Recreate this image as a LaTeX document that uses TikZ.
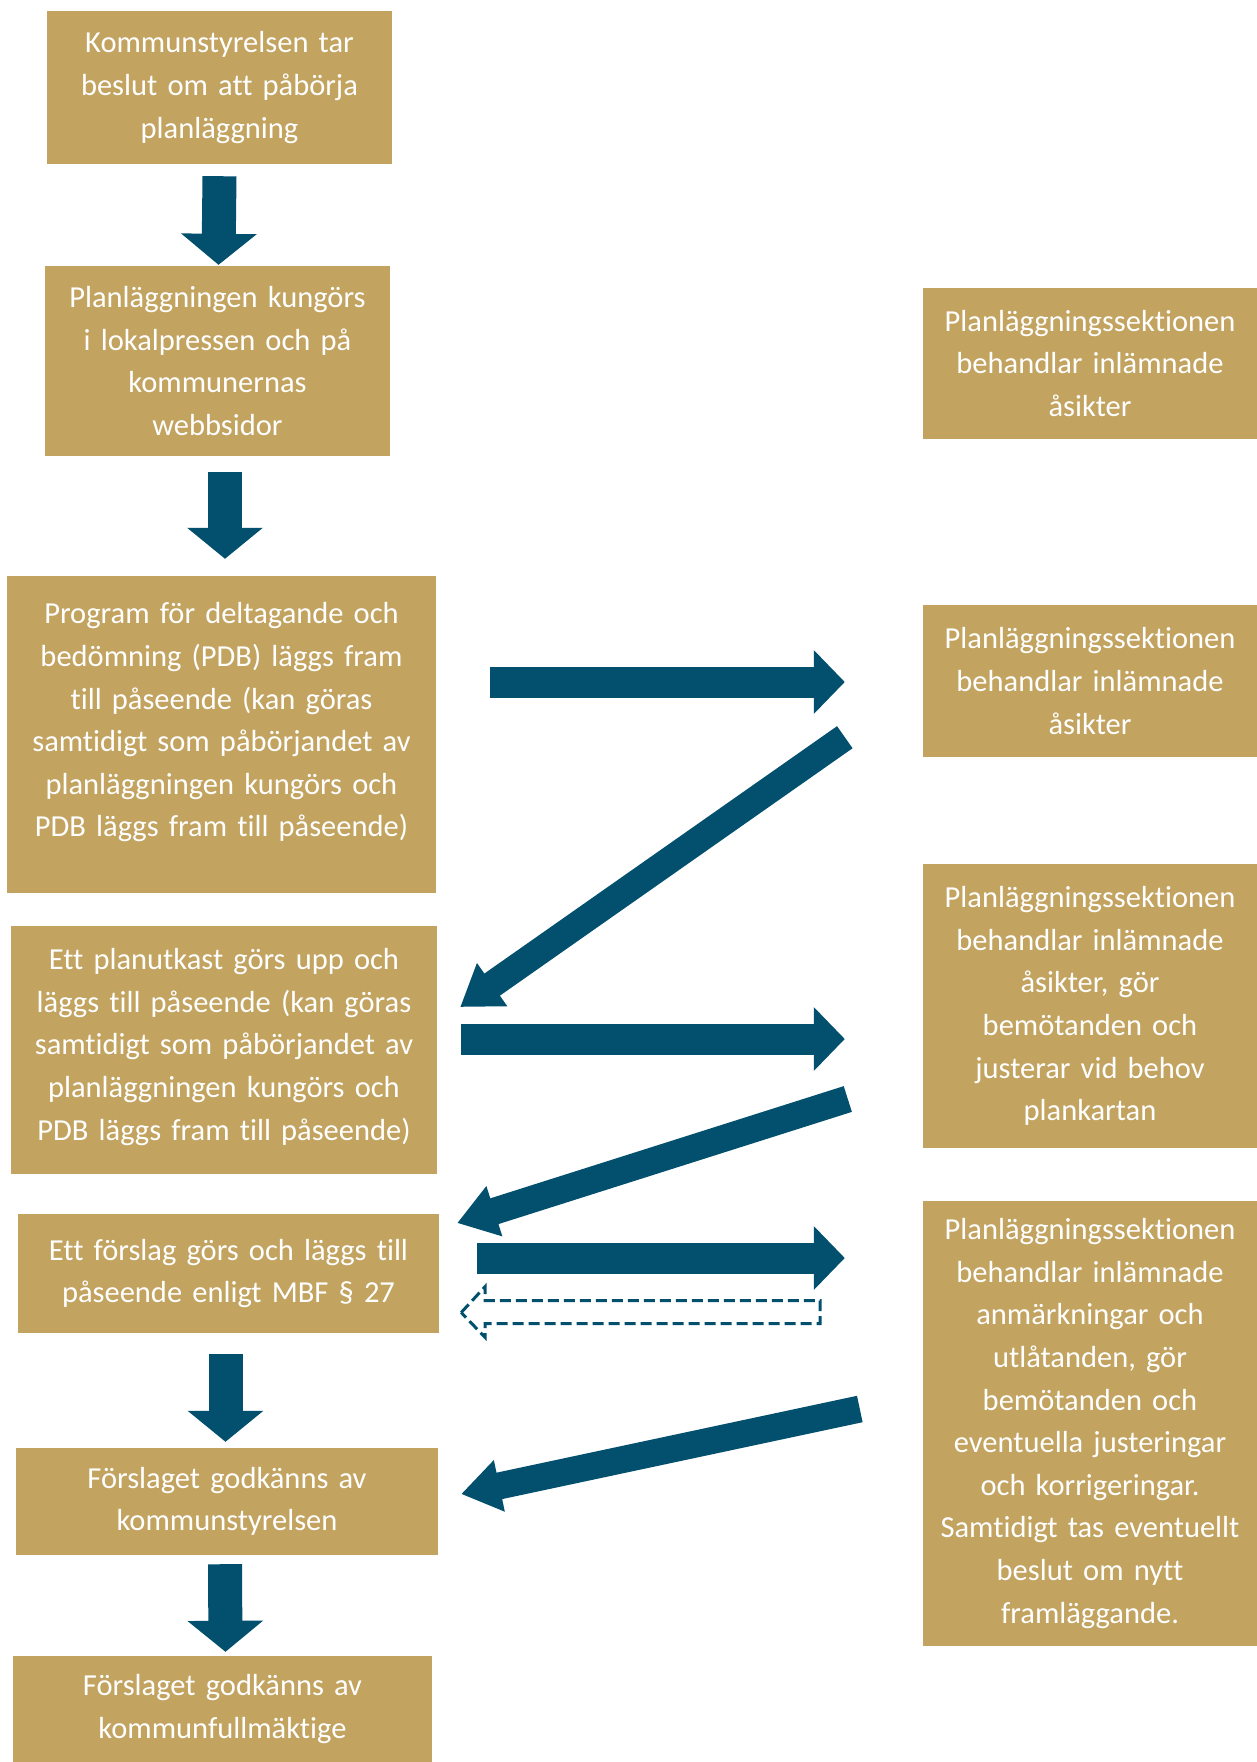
\documentclass[tikz,border=0pt]{standalone}
\usepackage{fontspec}
\setmainfont{Carlito}[Ligatures=NoCommon]
\usetikzlibrary{arrows.meta, calc}

\definecolor{gold}{HTML}{C2A360}
\definecolor{petrol}{HTML}{02506E}

% push the text of a box upwards by adding room under it
\newcommand{\lowroom}[1]{\par\vskip#1\hrule height0pt width0pt}

\begin{document}
\begin{tikzpicture}[
    x=1pt, y=-1pt,
    box/.style={rectangle, fill=gold, text=white, inner sep=0pt, align=center,
                font=\fontsize{30.5}{42.6}\selectfont},
    rbox/.style={box, text width=334pt},
    varr/.style={-{Triangle[length=31pt, width=74pt]}, line width=34pt, draw=petrol},
    harr/.style={-{Triangle[length=31pt, width=62pt]}, line width=31pt, draw=petrol},
    darr/.style={-{Triangle[length=39pt, width=50pt]}, line width=27pt, draw=petrol},
    backarr/.style={draw=petrol, line width=3pt, dash pattern=on 11pt off 5pt}
]
  \useasboundingbox (0,0) rectangle (1257,1762);

  % left column
  \node[box, text width=345pt, minimum height=153pt] (start) at (219.5,87.5)
    {Kommunstyrelsen tar\\beslut om att påbörja\\planläggning};
  \node[box, text width=345pt, minimum height=190pt] (kung) at (217.5,361)
    {Planläggningen kungörs\\i lokalpressen och på\\kommunernas\\webbsidor};
  \node[box, text width=429pt, minimum height=317pt] (pdb) at (221.5,734.5)
    {Program för deltagande och\\bedömning (PDB) läggs fram\\till påseende (kan göras\\samtidigt som påbörjandet av\\planläggningen kungörs och\\PDB läggs fram till påseende)\lowroom{24pt}};
  \node[box, text width=426pt, minimum height=248pt] (utkast) at (224,1050)
    {Ett planutkast görs upp och\\läggs till påseende (kan göras\\samtidigt som påbörjandet av\\planläggningen kungörs och\\PDB läggs fram till påseende)\lowroom{6pt}};
  \node[box, text width=421pt, minimum height=119pt] (forslag) at (228.5,1273.5)
    {Ett förslag görs och läggs till\\påseende enligt MBF § 27};
  \node[box, text width=422pt, minimum height=107pt] (ks) at (227,1501.5)
    {Förslaget godkänns av\\kommunstyrelsen};
  \node[box, text width=419pt, minimum height=106pt] (kf) at (222.5,1709)
    {Förslaget godkänns av\\kommunfullmäktige};

  % right column
  \node[rbox, minimum height=151pt] (sek1) at (1090,363.5)
    {Planläggningssektionen\\behandlar inlämnade\\åsikter};
  \node[rbox, minimum height=152pt] (sek2) at (1090,681)
    {Planläggningssektionen\\behandlar inlämnade\\åsikter};
  \node[rbox, minimum height=284pt] (sek3) at (1090,1006)
    {Planläggningssektionen\\behandlar inlämnade\\åsikter, gör\\bemötanden och\\justerar vid behov\\plankartan};
  \node[rbox, minimum height=445pt] (sek4) at (1090,1423.5)
    {Planläggningssektionen\\behandlar inlämnade\\anmärkningar och\\utlåtanden, gör\\bemötanden och\\eventuella justeringar\\och korrigeringar.\\Samtidigt tas eventuellt\\beslut om nytt\\framläggande.};

  % down arrows
  \draw[varr] ($(start.south)+(0,12)$) -- ($(kung.north)+(1,-1)$);
  \draw[varr] ($(kung.south)+(7.5,16)$) -- ($(pdb.north)+(3.5,-17)$);
  \draw[varr] ($(forslag.south)+(-3,21)$) -- ($(ks.north)+(-1.5,-6)$);
  \draw[varr] ($(ks.south)+(-2,9)$) -- ($(kf.north)+(3,-4)$);

  % out to the right
  \draw[harr] ($(pdb.east |- sek2.west)+(54,1)$) -- ($(sek2.west)+(-78,1)$);
  \draw[harr] ($(utkast.east)+(24,-11)$) -- ($(utkast.east -| sek3.west)+(-78,-11)$);
  \draw[harr] ($(forslag.east)+(38,-15.5)$) -- ($(forslag.east -| sek4.west)+(-78,-15.5)$);

  % back to the left
  \draw[darr] ($(sek2.south west)+(-78,-20)$) -- ($(utkast.east)+(23,-43)$);
  \draw[darr] ($(sek3.west)+(-75,93)$) -- ($(forslag.east)+(18,-50.5)$);
  \draw[darr] ($(sek4.west)+(-63,-14.5)$) -- ($(ks.east)+(23,-7.5)$);

  % dashed return arrow
  \draw[backarr] ($(forslag.east)+(22,39)$) -- ++(24,-26) -- ++(0,14) -- ++(335,0)
    -- ++(0,23) -- ++(-335,0) -- ++(0,14) -- cycle;
\end{tikzpicture}
\end{document}
